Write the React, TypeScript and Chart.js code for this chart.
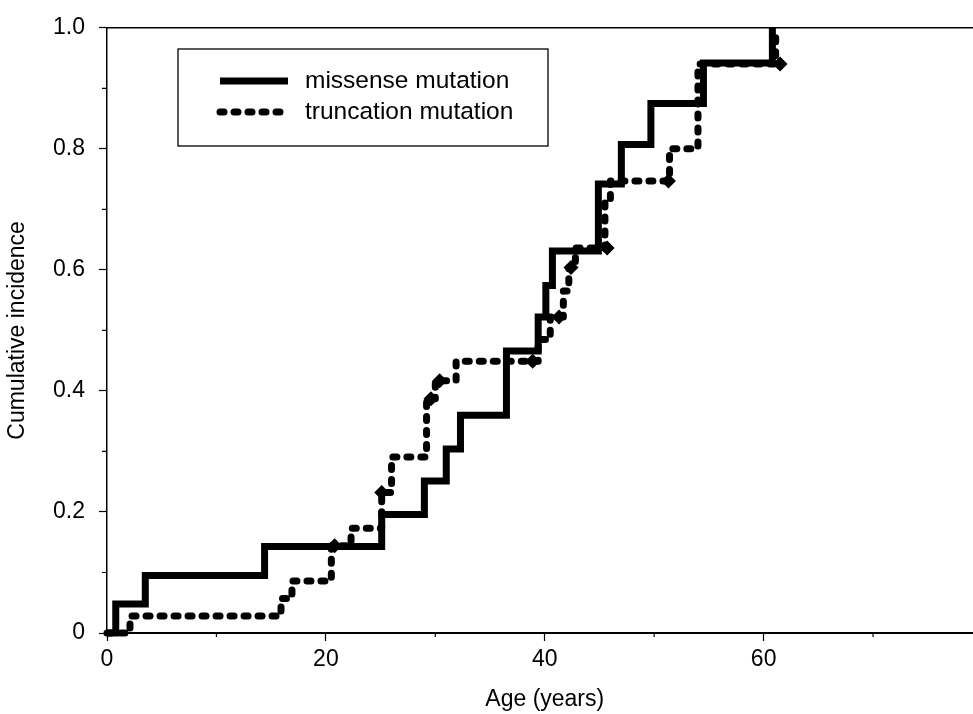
import React, { useEffect, useRef } from 'react';
import { Chart, registerables } from 'chart.js';

Chart.register(...registerables);

// ---- data ----
const missenseAges = [0, 0.8, 3.5, 14.4, 25.1, 29.0, 31.0, 32.3, 36.5, 39.4, 40.1, 40.7, 44.9, 47.0, 49.7, 54.5, 60.8];
const missenseValues = [0, 0.048, 0.095, 0.143, 0.196, 0.251, 0.304, 0.36, 0.466, 0.522, 0.574, 0.631, 0.742, 0.807, 0.875, 0.942, 1.0];

const truncationAges = [0, 2.1, 15.9, 16.9, 20.5, 22.3, 25.1, 26.0, 29.2, 30.0, 31.9, 39.4, 40.5, 41.7, 42.2, 42.8, 45.5, 46.0, 51.4, 54.0, 61.1];
const truncationValues = [0, 0.028, 0.057, 0.086, 0.144, 0.173, 0.232, 0.291, 0.387, 0.417, 0.449, 0.485, 0.522, 0.565, 0.604, 0.636, 0.718, 0.747, 0.8, 0.94, 1.0];

const censorAges = [20.8, 25.1, 29.6, 30.4, 38.9, 41.3, 42.4, 45.7, 51.3, 61.5];
const censorValues = [0.144, 0.232, 0.387, 0.417, 0.449, 0.522, 0.604, 0.636, 0.747, 0.94];

const xTickValues = [0, 20, 40, 60];
const xTickLabels = ['0', '20', '40', '60'];
const xMinorTicks = [10, 30, 50, 70];
const yTickValues = [0, 0.2, 0.4, 0.6, 0.8, 1.0];
const yTickLabels = ['0', '0.2', '0.4', '0.6', '0.8', '1.0'];
const yMinorTicks = [0.1, 0.3, 0.5, 0.7, 0.9];

const seriesNames = ['missense mutation', 'truncation mutation'];
const xTitle = 'Age (years)';
const yTitle = 'Cumulative incidence';

const FONT_FAMILY = '"Liberation Sans", Arial, Helvetica, sans-serif';
const DOT_DASH = [4, 10];

const overlayPlugin = {
  id: 'overlay',
  afterDraw(chart: any) {
    const ctx = chart.ctx;
    const area = chart.chartArea;
    const xs = chart.scales.x;
    const ys = chart.scales.y;
    ctx.save();
    // top frame line
    ctx.strokeStyle = '#000';
    ctx.lineWidth = 1.5;
    ctx.beginPath();
    ctx.moveTo(area.left, area.top);
    ctx.lineTo(area.right, area.top);
    ctx.stroke();
    // minor ticks
    ctx.lineWidth = 1.2;
    ctx.beginPath();
    xMinorTicks.forEach((v) => {
      const px = xs.getPixelForValue(v);
      ctx.moveTo(px, area.bottom);
      ctx.lineTo(px, area.bottom + 4);
    });
    yMinorTicks.forEach((v) => {
      const py = ys.getPixelForValue(v);
      ctx.moveTo(area.left, py);
      ctx.lineTo(area.left - 5, py);
    });
    ctx.stroke();

    // legend box
    const bx = 178, by = 49, bw = 370, bh = 97;
    ctx.lineWidth = 1.3;
    ctx.strokeRect(bx, by, bw, bh);
    const rows = [81, 112];
    ctx.lineWidth = 7;
    ctx.lineCap = 'butt';
    ctx.setLineDash([]);
    ctx.beginPath();
    ctx.moveTo(220, rows[0]);
    ctx.lineTo(288, rows[0]);
    ctx.stroke();
    ctx.lineCap = 'round';
    ctx.setLineDash(DOT_DASH);
    ctx.beginPath();
    ctx.moveTo(220, rows[1]);
    ctx.lineTo(288, rows[1]);
    ctx.stroke();
    ctx.setLineDash([]);
    ctx.fillStyle = '#000';
    ctx.font = `24.5px ${FONT_FAMILY}`;
    ctx.textBaseline = 'middle';
    ctx.textAlign = 'left';
    ctx.fillText(seriesNames[0], 305, rows[0]);
    ctx.fillText(seriesNames[1], 305, rows[1]);
    ctx.restore();
  },
};

export default function App() {
  const canvasRef = useRef<HTMLCanvasElement | null>(null);

  useEffect(() => {
    document.body.style.margin = '0';
    const canvas = canvasRef.current;
    if (!canvas) return;
    const font = { family: FONT_FAMILY, size: 23 };
    const chart = new Chart(canvas, {
      type: 'line',
      data: {
        datasets: [
          {
            label: seriesNames[0],
            data: missenseAges.map((x, i) => ({ x, y: missenseValues[i] })),
            stepped: 'before',
            borderColor: '#000',
            borderWidth: 7,
            borderCapStyle: 'butt',
            borderJoinStyle: 'miter',
            pointRadius: 0,
            fill: false,
            clip: false,
          } as any,
          {
            label: seriesNames[1],
            data: truncationAges.map((x, i) => ({ x, y: truncationValues[i] })),
            stepped: 'before',
            borderColor: '#000',
            borderWidth: 7,
            borderDash: DOT_DASH,
            borderCapStyle: 'round',
            borderJoinStyle: 'round',
            pointRadius: 0,
            fill: false,
            clip: false,
          } as any,
          {
            label: 'censored',
            data: censorAges.map((x, i) => ({ x, y: censorValues[i] })),
            showLine: false,
            pointStyle: 'rectRot',
            pointRadius: 7.5,
            pointBackgroundColor: '#000',
            pointBorderColor: '#000',
            pointBorderWidth: 0,
            clip: false,
          } as any,
        ],
      },
      options: {
        animation: false,
        responsive: false,
        maintainAspectRatio: false,
        events: [],
        layout: { padding: { top: 18, right: 7, left: 0, bottom: 0 } },
        plugins: { legend: { display: false }, tooltip: { enabled: false } },
        scales: {
          x: {
            type: 'linear',
            min: 0,
            max: 80,
            afterFit: (s: any) => { s.height = 81; },
            afterBuildTicks: (s: any) => { s.ticks = xTickValues.map((v) => ({ value: v })); },
            ticks: {
              callback: (_v: any, i: number) => xTickLabels[i],
              font,
              color: '#000',
              padding: 5,
              maxRotation: 0,
              autoSkip: false,
            },
            grid: { drawOnChartArea: false, drawTicks: true, tickLength: 8, tickColor: '#000', tickWidth: 1.2 },
            border: { color: '#000', width: 2 },
            title: { display: true, text: xTitle, font, color: '#000', padding: { top: 0, bottom: 1 } },
          },
          y: {
            type: 'linear',
            min: 0,
            max: 1,
            afterFit: (s: any) => { s.width = 107; },
            afterBuildTicks: (s: any) => { s.ticks = yTickValues.map((v) => ({ value: v })); },
            ticks: {
              callback: (_v: any, i: number) => yTickLabels[i],
              font,
              color: '#000',
              padding: 14,
              autoSkip: false,
            },
            grid: { drawOnChartArea: false, drawTicks: true, tickLength: 8, tickColor: '#000', tickWidth: 1.2 },
            border: { color: '#000', width: 1.5 },
            title: { display: true, text: yTitle, font, color: '#000', padding: { top: 4, bottom: 0 } },
          },
        },
      } as any,
      plugins: [overlayPlugin],
    });
    return () => chart.destroy();
  }, []);

  return (
    <div style={{ position: 'relative', width: 973, height: 714, overflow: 'hidden', background: '#fff' }}>
      <canvas ref={canvasRef} width={990} height={714} style={{ width: 990, height: 714, display: 'block' }} />
    </div>
  );
}
